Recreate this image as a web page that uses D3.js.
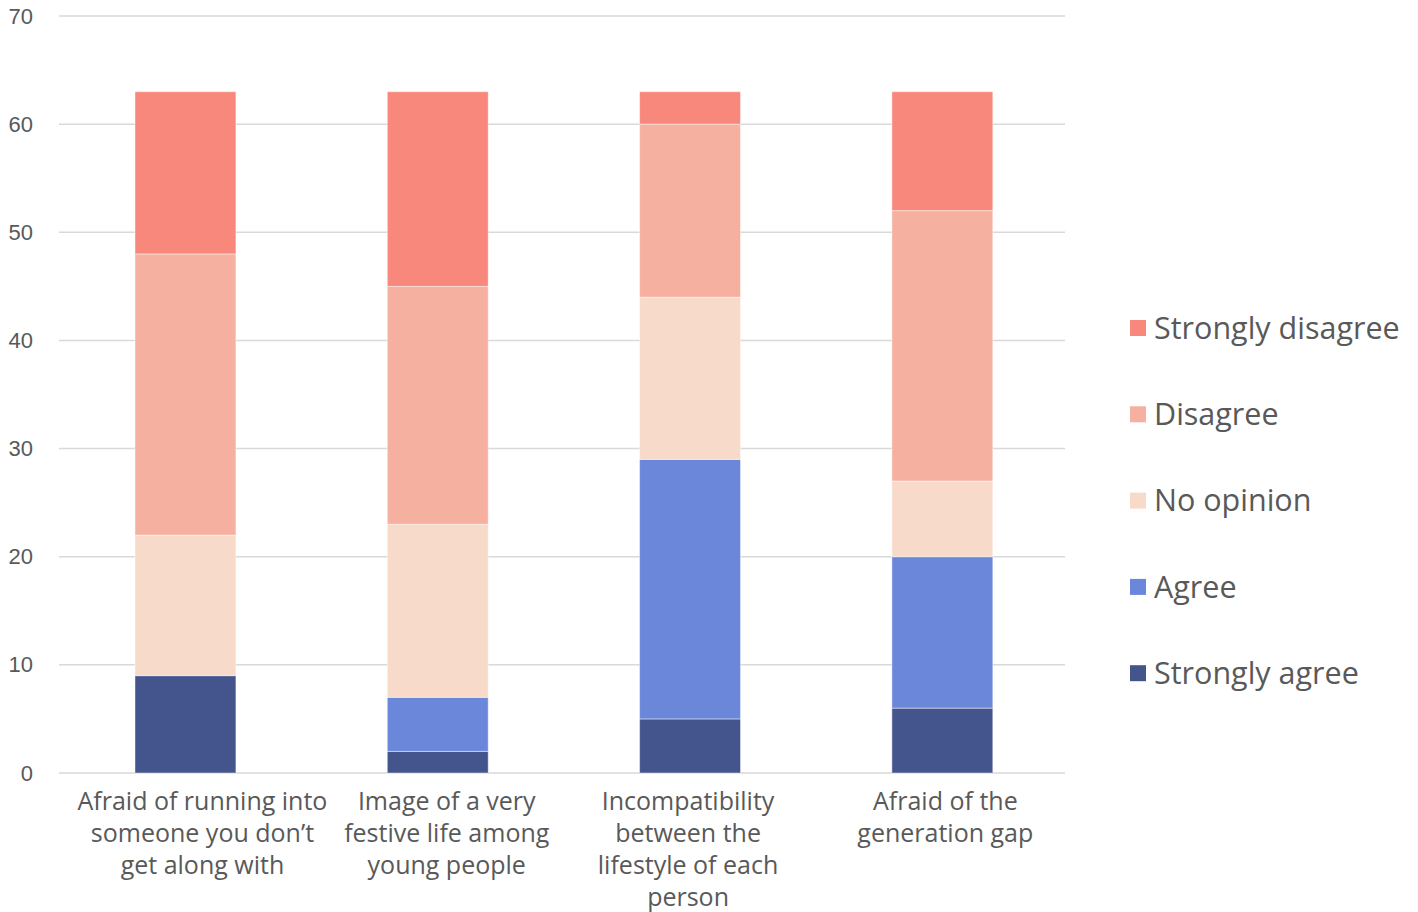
<!DOCTYPE html>
<html>
<head>
<meta charset="utf-8">
<script src="https://cdn.jsdelivr.net/npm/d3@7/dist/d3.min.js"></script>
<style>
  html, body { margin: 0; padding: 0; background: #ffffff; }
  svg { display: block; font-family: "Open Sans", "Noto Sans", sans-serif; }
</style>
</head>
<body>
<svg id="chart" width="1418" height="912"></svg>
<script>
// Survey categories (each label split into its wrapped lines)
const categories = [
  "Afraid of running into someone you don’t get along with",
  "Image of a very festive life among young people",
  "Incompatibility between the lifestyle of each person",
  "Afraid of the generation gap"
];
const categoryLines = [
  ["Afraid of running into", "someone you don’t", "get along with"],
  ["Image of a very", "festive life among", "young people"],
  ["Incompatibility", "between the", "lifestyle of each", "person"],
  ["Afraid of the", "generation gap"]
];

// Response counts per category, stacked bottom to top
const seriesNames = ["Strongly agree", "Agree", "No opinion", "Disagree", "Strongly disagree"];
const stronglyAgree    = [9, 2, 5, 6];
const agree            = [0, 5, 24, 14];
const noOpinion        = [13, 16, 15, 7];
const disagree         = [26, 22, 16, 25];
const stronglyDisagree = [15, 18, 3, 11];
const yTicks = [0, 10, 20, 30, 40, 50, 60, 70];

const colors = {
  "Strongly agree": "#44558d",
  "Agree": "#6a87d9",
  "No opinion": "#f7dac9",
  "Disagree": "#f6b0a0",
  "Strongly disagree": "#f8887b"
};

const seriesValues = [stronglyAgree, agree, noOpinion, disagree, stronglyDisagree];
const rows = categories.map((c, i) => {
  const r = { category: c };
  seriesNames.forEach((s, k) => { r[s] = seriesValues[k][i]; });
  return r;
});

const svg = d3.select("#chart");
const plot = { left: 59, right: 1065, top: 16, bottom: 773 };

const x = d3.scaleBand()
  .domain(categories)
  .range([59.3, 1068.5])
  .paddingInner(0.6)
  .paddingOuter(0.3);

const y = d3.scaleLinear().domain([0, 70]).range([plot.bottom, plot.top]);

const textColor = "#595959";

// Horizontal gridlines
svg.append("g")
  .selectAll("line")
  .data(yTicks)
  .join("line")
  .attr("x1", plot.left)
  .attr("x2", plot.right)
  .attr("y1", d => y(d))
  .attr("y2", d => y(d))
  .attr("stroke", "#d9d9d9")
  .attr("stroke-width", 1.5);

// Y axis labels
const yAxis = d3.axisLeft(y).tickValues(yTicks).tickSize(0).tickPadding(26);
const yg = svg.append("g")
  .attr("transform", `translate(${plot.left},0)`)
  .call(yAxis);
yg.select(".domain").remove();
yg.selectAll("text")
  .attr("fill", textColor)
  .style("font-size", "22px")
  .style("font-family", "inherit");

// Stacked bars
const stack = d3.stack().keys(seriesNames);
const layers = stack(rows);

svg.append("g")
  .selectAll("g")
  .data(layers)
  .join("g")
  .attr("fill", d => colors[d.key])
  .selectAll("rect")
  .data(d => d.filter(p => p[1] - p[0] > 0))
  .join("rect")
  .attr("x", d => x(d.data.category))
  .attr("width", x.bandwidth())
  .attr("y", d => y(d[1]))
  .attr("height", d => y(d[0]) - y(d[1]))
  .attr("stroke", "#ffffff")
  .attr("stroke-opacity", 0.45)
  .attr("stroke-width", 1);

// Category labels under the bars
const labelShift = [17, 9, -2, 3];
const xg = svg.append("g");
categories.forEach((c, i) => {
  const cx = x(c) + x.bandwidth() / 2 + labelShift[i];
  const t = xg.append("text")
    .attr("text-anchor", "middle")
    .attr("fill", textColor)
    .style("font-size", "25px");
  categoryLines[i].forEach((line, j) => {
    t.append("tspan")
      .attr("x", cx)
      .attr("y", 810 + j * 32)
      .text(line);
  });
});

// Legend (top entry is the top of the stack)
const legendItems = seriesNames.slice().reverse();
const legend = svg.append("g").attr("transform", "translate(1130,328)");
const li = legend.selectAll("g")
  .data(legendItems)
  .join("g")
  .attr("transform", (d, i) => `translate(0,${i * 86.3})`);
li.append("rect")
  .attr("x", 0)
  .attr("y", -8)
  .attr("width", 16)
  .attr("height", 16)
  .attr("fill", d => colors[d]);
li.append("text")
  .attr("x", 24)
  .attr("y", 0)
  .attr("dy", "0.35em")
  .attr("fill", textColor)
  .style("font-size", "30.5px")
  .text(d => d);
</script>
</body>
</html>
